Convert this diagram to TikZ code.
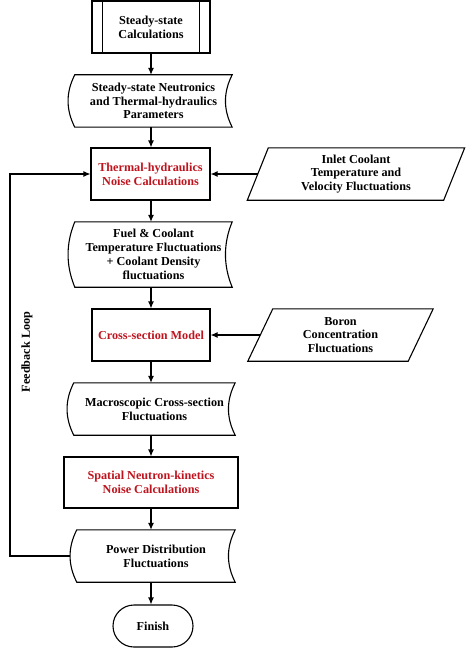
\documentclass[tikz,border=0pt]{standalone}
\usepackage{fontspec}
\setmainfont{Liberation Serif}
\usetikzlibrary{arrows.meta,calc}
\definecolor{tred}{RGB}{190,20,30}
\newcommand\sdshape[1]{%
  \draw[outline] (#1.north west) -- (#1.north east)
    .. controls ($(#1.north east)!0.333!(#1.south east)+(-9pt,0pt)$) and ($(#1.north east)!0.667!(#1.south east)+(-9pt,0pt)$) .. (#1.south east)
    -- (#1.south west)
    .. controls ($(#1.north west)!0.667!(#1.south west)+(-9pt,0pt)$) and ($(#1.north west)!0.333!(#1.south west)+(-9pt,0pt)$) .. cycle;}
\newcommand\ppshape[2]{%
  \draw[outline] ([xshift=#2]#1.north west) -- ([xshift=#2]#1.north east)
    -- ([xshift=-#2]#1.south east) -- ([xshift=-#2]#1.south west) -- cycle;}
\begin{document}
\begin{tikzpicture}[x=1pt,y=-1pt,
  txt/.style={inner sep=0pt, align=center, font=\bfseries\fontsize{12.2}{13.8}\selectfont},
  box/.style={txt, draw=none},
  rbox/.style={txt, draw, line width=1.1pt},
  outline/.style={line width=1.1pt},
  conn/.style={-{Latex[length=7pt,width=6pt]}, line width=1.1pt}]
\useasboundingbox (0,0) rectangle (474,658);

% predefined process
\node[rbox, minimum width=118pt, minimum height=52pt] (b1) at (151,27) {Steady-state\\Calculations};
\draw[outline] ([xshift=11pt]b1.north west) -- ([xshift=11pt]b1.south west);
\draw[outline] ([xshift=-11pt]b1.north east) -- ([xshift=-11pt]b1.south east);

\node[box, minimum width=157pt, minimum height=52pt] (b2) at (153.5,101) {Steady-state Neutronics\\and Thermal-hydraulics\\Parameters};
\sdshape{b2}

\node[rbox, minimum width=119pt, minimum height=52pt, text=tred] (b3) at (150.5,174) {Thermal-hydraulics\\Noise Calculations};

\node[box, minimum width=196pt, minimum height=52pt] (p1) at (356,174) {Inlet Coolant\\Temperature and\\Velocity Fluctuations};
\ppshape{p1}{10.5pt}

\node[box, minimum width=157pt, minimum height=65pt] (b4) at (153.5,254.5) {Fuel \& Coolant\\Temperature Fluctuations\\+ Coolant Density\\fluctuations};
\sdshape{b4}

\node[rbox, minimum width=118pt, minimum height=52pt, text=tred] (b5) at (151,335) {Cross-section Model};

\node[box, minimum width=160pt, minimum height=52pt] (p2) at (340.5,335) {Boron\\Concentration\\Fluctuations};
\ppshape{p2}{12.5pt}

\node[box, minimum width=161pt, minimum height=52pt] (b6) at (154.5,409) {Macroscopic Cross-section\\Fluctuations};
\sdshape{b6}

\node[rbox, minimum width=174pt, minimum height=51pt, text=tred] (b7) at (151,482.5) {Spatial Neutron-kinetics\\Noise Calculations};

\node[box, minimum width=158pt, minimum height=52pt] (b8) at (156,556) {Power Distribution\\Fluctuations};
\sdshape{b8}

\node[rbox, minimum width=80pt, minimum height=42pt, rounded corners=21pt] (b9) at (153,626) {Finish};

% vertical flow
\coordinate (ax) at (151,0);
\draw[conn] (ax |- b1.south) -- (ax |- b2.north);
\draw[conn] (ax |- b2.south) -- (ax |- b3.north);
\draw[conn] (ax |- b3.south) -- (ax |- b4.north);
\draw[conn] (ax |- b4.south) -- (ax |- b5.north);
\draw[conn] (ax |- b5.south) -- (ax |- b6.north);
\draw[conn] (ax |- b6.south) -- (ax |- b7.north);
\draw[conn] (ax |- b7.south) -- (ax |- b8.north);
\draw[conn] (ax |- b8.south) -- (ax |- b9.north);

% side inputs
\draw[conn] (p1.west) -- (b3.east);
\draw[conn] (p2.west) -- (b5.east);

% feedback loop
\coordinate (fbx) at (10,0);
\coordinate (fb1) at ($(fbx |- b8.west)$);
\coordinate (fb2) at ($(fbx |- b3.west)$);
\draw[conn] ([xshift=-7pt]b8.west) -- (fb1) -- (fb2) -- (b3.west);
\node[txt, rotate=90] (fbl) at (27,352) {Feedback Loop};
\end{tikzpicture}
\end{document}
